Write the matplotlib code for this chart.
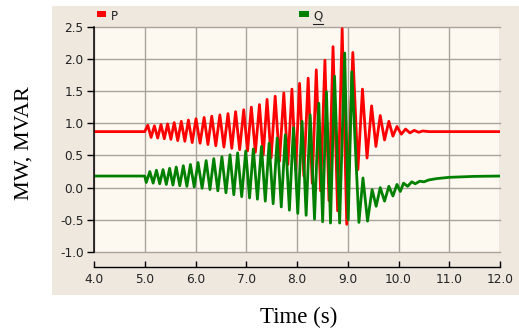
import matplotlib.pyplot as plt
from matplotlib.patches import Rectangle
from matplotlib.lines import Line2D

# extrema (time in s, value in MW / MVAR)
p_peak_t = [5.06, 5.19, 5.32, 5.45, 5.58, 5.72, 5.86, 6.01, 6.17, 6.32, 6.48, 6.64,
            6.79, 6.95, 7.10, 7.26, 7.41, 7.57, 7.74, 7.90, 8.05, 8.22, 8.38, 8.55,
            8.71, 8.89, 9.10, 9.29, 9.47, 9.64, 9.81, 9.97, 10.14, 10.31, 10.48]
p_peak_v = [0.97, 0.96, 0.98, 0.99, 1.01, 1.03, 1.05, 1.07, 1.09, 1.11, 1.13, 1.15,
            1.18, 1.21, 1.25, 1.29, 1.37, 1.42, 1.47, 1.53, 1.62, 1.70, 1.83, 1.98,
            2.19, 2.47, 2.10, 1.53, 1.27, 1.12, 1.03, 0.95, 0.91, 0.89, 0.88]
p_trough_t = [5.125, 5.255, 5.385, 5.515, 5.65, 5.79, 5.935, 6.09, 6.245, 6.40, 6.56,
              6.715, 6.87, 7.025, 7.18, 7.335, 7.49, 7.655, 7.82, 7.975, 8.135, 8.30,
              8.465, 8.63, 8.80, 8.98, 9.20, 9.38, 9.555, 9.725, 9.89, 10.055, 10.225, 10.395]
p_trough_v = [0.78, 0.77, 0.76, 0.75, 0.73, 0.72, 0.70, 0.69, 0.67, 0.65, 0.63,
              0.61, 0.59, 0.57, 0.55, 0.51, 0.46, 0.41, 0.36, 0.28, 0.18, 0.07,
              -0.05, -0.20, -0.36, -0.57, 0.28, 0.46, 0.64, 0.74, 0.80, 0.83, 0.85, 0.86]
p_flat_t = [4.0, 5.0, 10.6, 12.0]
p_flat_v = [0.87, 0.87, 0.87, 0.87]

q_peak_t = [5.10, 5.23, 5.36, 5.49, 5.62, 5.76, 5.90, 6.05, 6.21, 6.36, 6.52, 6.68,
            6.83, 6.99, 7.14, 7.30, 7.45, 7.61, 7.77, 7.93, 8.10, 8.26, 8.43, 8.58,
            8.74, 8.94, 9.08, 9.30, 9.48, 9.64, 9.81, 9.97, 10.10]
q_peak_v = [0.25, 0.27, 0.28, 0.30, 0.32, 0.34, 0.36, 0.39, 0.42, 0.45, 0.48, 0.51,
            0.54, 0.57, 0.60, 0.64, 0.69, 0.77, 0.82, 0.93, 1.03, 1.13, 1.31, 1.49,
            1.73, 2.09, 1.80, 0.15, -0.03, 0.00, 0.02, 0.05, 0.07]
q_trough_t = [5.03, 5.165, 5.295, 5.425, 5.555, 5.69, 5.83, 5.975, 6.13, 6.285, 6.44,
              6.60, 6.755, 6.91, 7.065, 7.22, 7.375, 7.53, 7.69, 7.85, 8.015, 8.18,
              8.345, 8.505, 8.66, 8.84, 9.01, 9.22, 9.39, 9.56, 9.725, 9.89, 10.035, 10.18]
q_trough_v = [0.08, 0.07, 0.06, 0.05, 0.04, 0.03, 0.02, 0.01, -0.01, -0.03, -0.05,
              -0.08, -0.11, -0.14, -0.16, -0.18, -0.21, -0.25, -0.30, -0.35, -0.40, -0.43,
              -0.49, -0.53, -0.55, -0.55, -0.50, -0.54, -0.52, -0.29, -0.21, -0.13, -0.06, 0.02]
q_flat_t = [4.0, 5.0, 10.26, 10.33, 10.42, 10.5, 10.6, 10.75, 11.0, 11.5, 12.0]
q_flat_v = [0.18, 0.18, 0.09, 0.06, 0.10, 0.09, 0.12, 0.14, 0.16, 0.175, 0.18]

x_ticks = [4, 5, 6, 7, 8, 9, 10, 11, 12]
y_ticks = [-1.0, -0.5, 0.0, 0.5, 1.0, 1.5, 2.0, 2.5]


def merge(*parts):
    pts = []
    for t, v in parts:
        pts += list(zip(t, v))
    pts.sort()
    return [p[0] for p in pts], [p[1] for p in pts]


p_t, p_v = merge((p_flat_t, p_flat_v), (p_peak_t, p_peak_v), (p_trough_t, p_trough_v))
q_t, q_v = merge((q_flat_t, q_flat_v), (q_peak_t, q_peak_v), (q_trough_t, q_trough_v))

W, H = 519, 331
fig = plt.figure(figsize=(W / 100, H / 100), dpi=100)
fig.patch.set_facecolor('white')
fig.add_artist(Rectangle((52 / W, 1 - 295 / H), 1 - 52 / W, 289 / H,
                         transform=fig.transFigure, facecolor='#EEE8DF',
                         edgecolor='none', zorder=-5))

ax = fig.add_axes([94 / W, 1 - 252 / H, 406 / W, 225.3 / H])
ax.set_facecolor('#FDF9F0')

ax.plot(p_t, p_v, color='#FF0000', lw=2.0, zorder=3, solid_joinstyle='round')
ax.plot(q_t, q_v, color='#008000', lw=2.0, zorder=4, solid_joinstyle='round')

ax.set_xlim(4, 12)
ax.set_ylim(-1.0, 2.5)
ax.set_xticks(x_ticks)
ax.set_xticklabels([f'{v:.1f}' for v in x_ticks])
ax.set_yticks(y_ticks)
ax.set_yticklabels([f'{v:.1f}' for v in y_ticks])

ax.grid(color='#A8A39B', lw=1.0)
ax.set_axisbelow(True)
for gl in ax.get_xgridlines() + ax.get_ygridlines():
    gl.set_clip_on(False)

ax.spines['top'].set_visible(False)
ax.spines['right'].set_visible(False)
ax.spines['left'].set_color('black')
ax.spines['left'].set_linewidth(1.1)
ax.spines['left'].set_zorder(5)
ax.spines['bottom'].set_position(('outward', 11))
ax.spines['bottom'].set_color('black')
ax.spines['bottom'].set_linewidth(1.0)

ax.tick_params(axis='x', direction='in', length=4, width=1, pad=4,
               labelsize=8.7, labelcolor='#222222')
ax.tick_params(axis='y', direction='out', length=5, width=1, pad=2.5,
               labelsize=8.7, labelcolor='#222222')

# legend drawn in the beige header band
fig.add_artist(Rectangle((97 / W, 1 - 17 / H), 9 / W, 6 / H,
                         transform=fig.transFigure, facecolor='#FF0000', edgecolor='none'))
fig.text(111 / W, 1 - 16 / H, 'P', fontsize=8.5, va='center', ha='left', color='#222222')
fig.add_artist(Rectangle((299 / W, 1 - 17 / H), 10 / W, 6 / H,
                         transform=fig.transFigure, facecolor='#008000', edgecolor='none'))
fig.text(313 / W, 1 - 16 / H, 'Q', fontsize=8.5, va='center', ha='left', color='#222222')
fig.add_artist(Line2D([313 / W, 323 / W], [1 - 24 / H, 1 - 24 / H],
                      transform=fig.transFigure, color='#222222', lw=0.8))

fig.text(24 / W, 1 - 143 / H, 'MW, MVAR', rotation=90, family='Liberation Serif',
         fontsize=16, ha='center', va='center')
fig.text(299 / W, 1 - 317 / H, 'Time (s)', family='Liberation Serif',
         fontsize=16.5, ha='center', va='center')

fig.savefig('out.png', dpi=100)
